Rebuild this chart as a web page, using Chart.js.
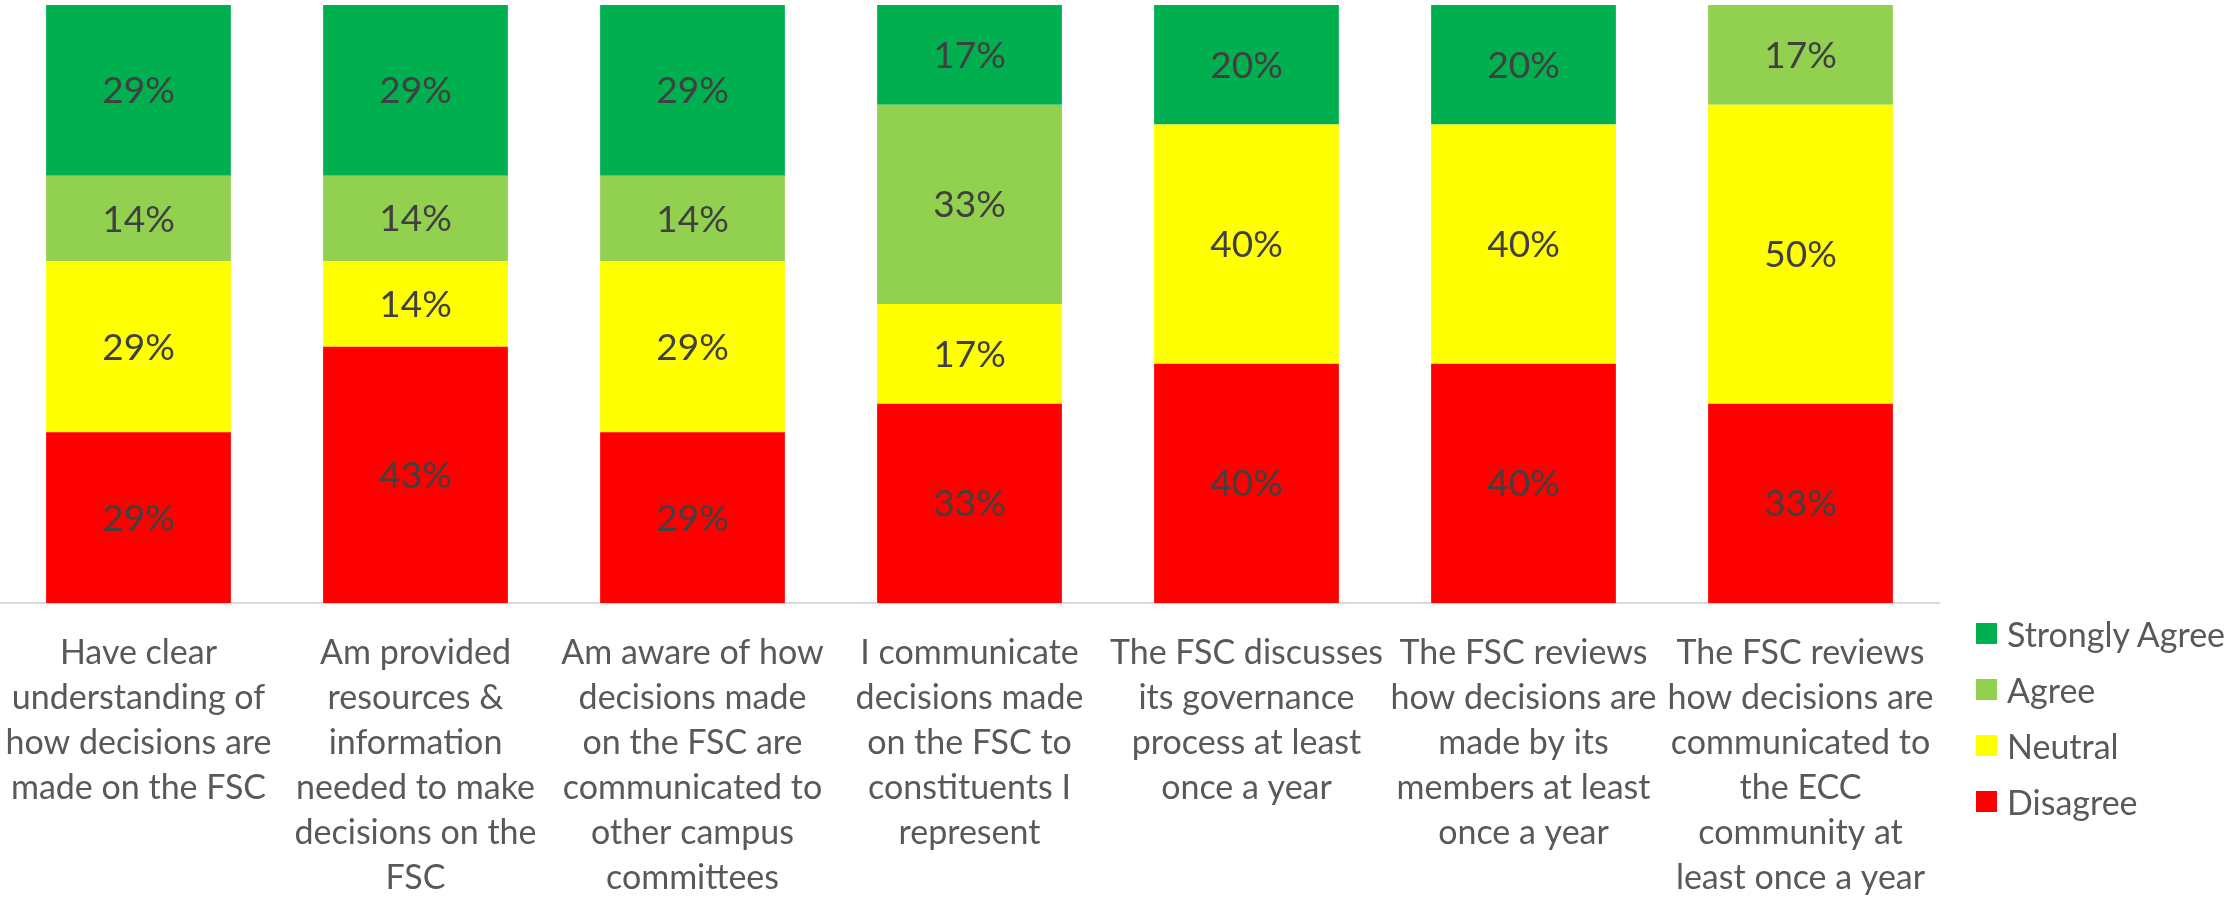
<!DOCTYPE html>
<html>
<head>
<meta charset="utf-8">
<script src="https://cdn.jsdelivr.net/npm/chart.js@4/dist/chart.umd.min.js"></script>
<style>
  body { margin: 0; background: #fff; }
  #wrap { position: relative; width: 2231px; height: 897px; }
  #legend { position: absolute; left: 1976px; top: 605px; font-family: Lato, sans-serif; font-size: 34px; color: #595959; }
  .row { height: 56px; display: flex; align-items: center; white-space: nowrap; }
  .box { width: 21px; height: 21px; margin-right: 10px; }
</style>
</head>
<body>
<div id="wrap">
  <canvas id="chart"></canvas>
  <div id="legend"></div>
</div>
<script>
// survey questions (x axis), one line per array entry
var questions = [
  ["Have clear", "understanding of", "how decisions are", "made on the FSC"],
  ["Am provided", "resources &", "information", "needed to make", "decisions on the", "FSC"],
  ["Am aware of how", "decisions made", "on the FSC are", "communicated to", "other campus", "committees"],
  ["I communicate", "decisions made", "on the FSC to", "constituents I", "represent"],
  ["The FSC discusses", "its governance", "process at least", "once a year"],
  ["The FSC reviews", "how decisions are", "made by its", "members at least", "once a year"],
  ["The FSC reviews", "how decisions are", "communicated to", "the ECC", "community at", "least once a year"]
]

// percent of responses, stacked bottom to top
var disagree      = [28.57, 42.86, 28.57, 33.33, 40, 40, 33.33]
var neutral       = [28.57, 14.29, 28.57, 16.67, 40, 40, 50]
var agree         = [14.29, 14.28, 14.29, 33.33, 0, 0, 16.67]
var stronglyAgree = [28.57, 28.57, 28.57, 16.67, 20, 20, 0]

var seriesNames  = ["Disagree", "Neutral", "Agree", "Strongly Agree"]
var seriesColors = ["#FF0000", "#FFFF00", "#92D050", "#00B050"]
var seriesData   = [disagree, neutral, agree, stronglyAgree]

var datasets = []
for (var i = 0; i < seriesNames.length; i++) {
    datasets.push({
        label: seriesNames[i],
        data: seriesData[i],
        backgroundColor: seriesColors[i],
        borderWidth: 0,
        categoryPercentage: 1,
        barPercentage: 0.667
    })
}

// percentage text in the middle of each segment
var segmentLabels = {
    id: 'segmentLabels',
    afterDatasetsDraw: function(chart) {
        var ctx = chart.ctx
        ctx.save()
        ctx.font = '37px Lato'
        ctx.fillStyle = '#404040'
        ctx.textAlign = 'center'
        ctx.textBaseline = 'middle'
        chart.data.datasets.forEach(function(ds, i) {
            chart.getDatasetMeta(i).data.forEach(function(bar, j) {
                var v = ds.data[j]
                if (!v) return
                var p = bar.getCenterPoint()
                ctx.fillText(Math.round(v) + '%', p.x, p.y + 1)
            })
        })
        ctx.restore()
    }
}

new Chart(document.getElementById('chart'), {
    type: 'bar',
    data: { labels: questions, datasets: datasets },
    options: {
        responsive: true,
        maintainAspectRatio: false,
        animation: false,
        layout: { padding: { top: 5, right: 292, left: 0, bottom: 0 } },
        plugins: {
            legend: { display: false },
            tooltip: { enabled: false }
        },
        scales: {
            x: {
                stacked: true,
                grid: { display: true, drawOnChartArea: false, drawTicks: false },
                border: { display: true, color: '#D9D9D9', width: 2 },
                ticks: {
                    color: '#595959',
                    font: { family: 'Lato', size: 34, lineHeight: '45px' },
                    padding: 28,
                    maxRotation: 0,
                    minRotation: 0,
                    autoSkip: false
                },
                // labels are allowed to run past the plot edges, like the original
                afterFit: function(scale) {
                    scale.height = 294
                    scale.paddingLeft = 0
                    scale.paddingRight = 0
                }
            },
            y: {
                stacked: true,
                display: false,
                min: 0,
                max: 100
            }
        }
    },
    plugins: [segmentLabels]
})

// legend, top entry first
var legend = document.getElementById('legend')
for (var k = seriesNames.length - 1; k >= 0; k--) {
    var row = document.createElement('div')
    row.className = 'row'
    row.innerHTML = '<div class="box" style="background:' + seriesColors[k] + '"></div>' + seriesNames[k]
    legend.appendChild(row)
}
</script>
</body>
</html>
